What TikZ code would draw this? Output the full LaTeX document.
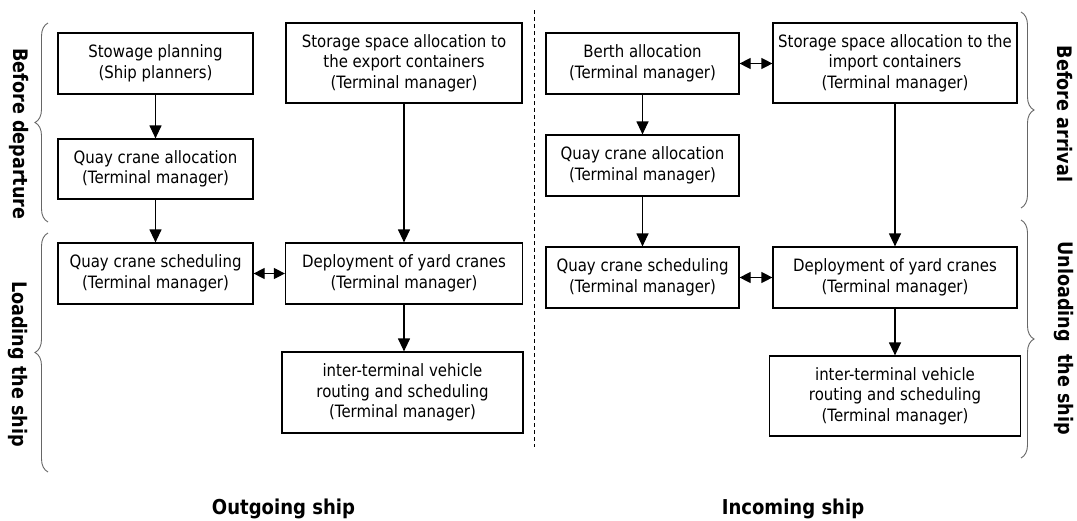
\documentclass[tikz,border=0pt]{standalone}
\usepackage{fontspec}
\setmainfont{DejaVu Sans}[FakeStretch=0.88]
\usetikzlibrary{arrows.meta}
\usetikzlibrary{decorations.pathreplacing}

\begin{document}
\begin{tikzpicture}
            [x=1pt, y=-1pt,
            box/.style={draw, line width=1.2pt, align=center, inner sep=0pt,
                font=\fontsize{17}{20.5}\selectfont},
            link/.style={line width=1.2pt, -{Triangle[length=13pt,width=12pt]}},
            both/.style={line width=1.2pt, {Triangle[length=11pt,width=11pt]}-{Triangle[length=11pt,width=11pt]}},
            brc/.style={decorate, decoration={brace, amplitude=13pt}, line width=0.9pt, black!60},
            side/.style={font=\bfseries\fontsize{20}{24}\selectfont, rotate=-90},
            ship/.style={font=\bfseries\fontsize{20.5}{24}\selectfont, anchor=base},
            ]
            \useasboundingbox (0,0) rectangle (1077,520);

            % outgoing ship
            \begin{scope}
                \node[box, minimum width=195pt, minimum height=61pt] (stow) at (155.5,63.5) {Stowage planning\\(Ship planners)};
                \node[box, minimum width=195pt, minimum height=60pt] (qcaOut) at (155.5,169) {Quay crane allocation\\(Terminal manager)};
                \node[box, minimum width=195pt, minimum height=61pt] (qcsOut) at (155.5,273.5) {Quay crane scheduling\\(Terminal manager)};
                \node[box, minimum width=236pt, minimum height=80pt] (spaceOut) at (404,63) {Storage space allocation to\\the export containers\\(Terminal manager)};
                \node[box, minimum width=237pt, minimum height=61pt] (yardOut) at (404,273.5) {Deployment of yard cranes\\(Terminal manager)};
                \node[box, minimum width=241pt, minimum height=81pt] (itvOut) at (402.5,392.5) {inter-terminal vehicle\\routing and scheduling\\(Terminal manager)};

                \draw[link] (stow) -- (qcaOut);
                \draw[link] (qcaOut) -- (qcsOut);
                \draw[link] (spaceOut) -- (yardOut);
                \draw[link] (yardOut.south) -- (yardOut.south |- itvOut.north);
                \draw[both] (qcsOut) -- (yardOut);
            \end{scope}

            % separator
            \draw[line width=1pt, dash pattern=on 4pt off 3pt] (534,10) -- (534,447);

            % incoming ship
            \begin{scope}
                \node[box, minimum width=193pt, minimum height=61pt] (berth) at (642.5,63.5) {Berth allocation\\(Terminal manager)};
                \node[box, minimum width=193pt, minimum height=61pt] (qcaIn) at (642.5,165.5) {Quay crane allocation\\(Terminal manager)};
                \node[box, minimum width=193pt, minimum height=61pt] (qcsIn) at (642.5,277.5) {Quay crane scheduling\\(Terminal manager)};
                \node[box, minimum width=244pt, minimum height=80pt] (spaceIn) at (895,63) {Storage space allocation to the\\import containers\\(Terminal manager)};
                \node[box, minimum width=244pt, minimum height=61pt] (yardIn) at (895,277.5) {Deployment of yard cranes\\(Terminal manager)};
                \node[box, minimum width=251pt, minimum height=80pt] (itvIn) at (895,396) {inter-terminal vehicle\\routing and scheduling\\(Terminal manager)};

                \draw[link] (berth) -- (qcaIn);
                \draw[link] (qcaIn) -- (qcsIn);
                \draw[link] (spaceIn) -- (yardIn);
                \draw[link] (yardIn) -- (itvIn);
                \draw[both] (berth.east) -- (berth.east -| spaceIn.west);
                \draw[both] (qcsIn) -- (yardIn);
            \end{scope}

            % braces
            \draw[brc] (48,222) -- (48,23);
            \draw[brc] (48,472) -- (48,233);
            \draw[brc] (1021,12) -- (1021,208);
            \draw[brc] (1021,220) -- (1021,458);

            % words
            \node[side] (departure) at (19,134) {Before departure};
            \node[side] (loading) at (18,364) {Loading the ship};
            \node[side] (arrival) at (1065,114) {Before arrival};
            \node[side] (unloading) at (1064,338) {Unloading\ \ the ship};
            \node[ship] (outgoing) at (283.5,514) {Outgoing ship};
            \node[ship] (incoming) at (793,514) {Incoming ship};
        \end{tikzpicture}
\end{document}
